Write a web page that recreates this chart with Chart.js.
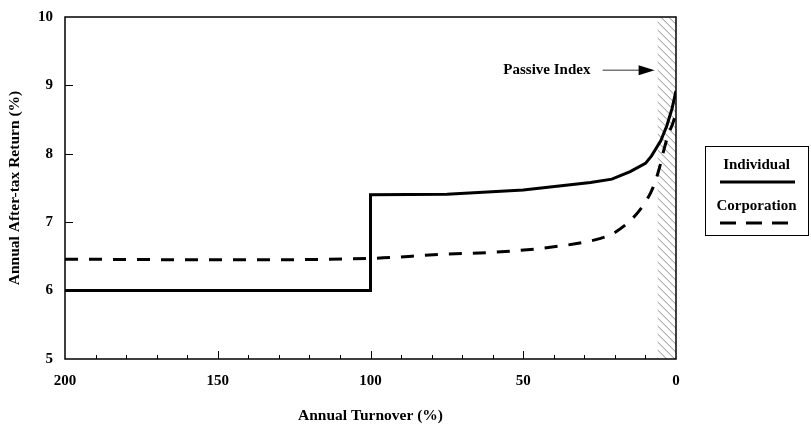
<!DOCTYPE html>
<html><head><meta charset="utf-8">
<script src="https://cdn.jsdelivr.net/npm/chart.js@4.4.1/dist/chart.umd.min.js"></script>
<style>html,body{margin:0;padding:0;background:#fff}#wrap{width:811px;height:427px;position:relative}</style>
</head><body><div id="wrap"><canvas id="c"></canvas></div>
<script>
// ---- data ----
const turnoverIndividual = [200, 100, 100, 75, 50, 28, 21, 15, 10, 8, 6.5, 5, 3, 1.3, 0];
const returnIndividual   = [6.0, 6.0, 7.4, 7.41, 7.47, 7.58, 7.63, 7.74, 7.86, 7.97, 8.08, 8.19, 8.41, 8.66, 8.92];
const turnoverCorporation = [200, 150, 100, 77, 60, 40, 25, 20, 12, 7.5, 5.2, 4.3, 2.6, 1, 0];
const returnCorporation   = [6.46, 6.45, 6.47, 6.53, 6.56, 6.64, 6.76, 6.85, 7.17, 7.51, 7.83, 8.0, 8.27, 8.45, 8.6];
const seriesNames = ['Individual', 'Corporation'];
const xAxisTitle = 'Annual Turnover (%)';
const yAxisTitle = 'Annual After-tax Return (%)';
const passiveLabel = 'Passive Index';
const passiveRange = [0, 6];          // turnover range of the hatched region
const passiveArrow = {labelEnd: 28, tail: 24, tip: 7, y: 9.22};
const xMajorStep = 50, xMinorStep = 10, yStep = 1;

const FONT = '"Liberation Serif", "Times New Roman", serif';
const toXY = (xs, ys) => xs.map((x, i) => ({x, y: ys[i]}));

const decor = {
  id: 'decor',
  beforeDatasetsDraw(chart) {
    const {ctx, chartArea: a, scales: {x}} = chart;
    const x0 = x.getPixelForValue(passiveRange[1]), x1 = x.getPixelForValue(passiveRange[0]);
    ctx.save();
    ctx.beginPath(); ctx.rect(Math.min(x0, x1), a.top, Math.abs(x1 - x0), a.bottom - a.top); ctx.clip();
    ctx.strokeStyle = '#8a8a8a'; ctx.lineWidth = 1;
    for (let yy = a.top - 40; yy < a.bottom + 40; yy += 8) {
      ctx.beginPath();
      ctx.moveTo(Math.min(x0, x1) - 5, yy);
      ctx.lineTo(Math.min(x0, x1) - 5 + 40, yy + 40);
      ctx.stroke();
    }
    ctx.restore();
  },
  afterDatasetsDraw(chart) {
    const {ctx, chartArea: a, scales: {x, y}} = chart;
    ctx.save();
    ctx.strokeStyle = '#000'; ctx.lineWidth = 1.5;
    ctx.strokeRect(a.left, a.top, a.right - a.left, a.bottom - a.top);
    ctx.lineWidth = 1;
    for (let v = xMinorStep; v < x.max; v += xMinorStep) {
      const px = Math.round(x.getPixelForValue(v)) + 0.5;
      const len = (v % xMajorStep === 0) ? 8 : 4;
      ctx.beginPath(); ctx.moveTo(px, a.bottom); ctx.lineTo(px, a.bottom - len); ctx.stroke();
    }
    for (let v = y.min + yStep; v < y.max; v += yStep) {
      const py = Math.round(y.getPixelForValue(v)) + 0.5;
      ctx.beginPath(); ctx.moveTo(a.left, py); ctx.lineTo(a.left + 8, py); ctx.stroke();
    }
    const ay = y.getPixelForValue(passiveArrow.y);
    const tail = x.getPixelForValue(passiveArrow.tail), tip = x.getPixelForValue(passiveArrow.tip);
    ctx.strokeStyle = '#777'; ctx.lineWidth = 1.5;
    ctx.beginPath(); ctx.moveTo(tail, ay); ctx.lineTo(tip - 14, ay); ctx.stroke();
    ctx.fillStyle = '#000';
    ctx.beginPath(); ctx.moveTo(tip, ay); ctx.lineTo(tip - 16, ay - 5); ctx.lineTo(tip - 16, ay + 5); ctx.closePath(); ctx.fill();
    ctx.font = 'bold 15px ' + FONT; ctx.textAlign = 'right'; ctx.textBaseline = 'middle';
    ctx.fillText(passiveLabel, x.getPixelForValue(passiveArrow.labelEnd), ay);
    const bx = a.right + 29, by = 146, bw = 103, bh = 89;
    ctx.lineWidth = 1; ctx.strokeStyle = '#000';
    ctx.strokeRect(bx + 0.5, by + 0.5, bw, bh);
    ctx.textAlign = 'center'; ctx.fillStyle = '#000';
    const cx = bx + bw / 2;
    ctx.fillText(chart.data.datasets[0].label, cx, by + 19);
    ctx.lineWidth = 3;
    ctx.beginPath(); ctx.moveTo(bx + 15, by + 36); ctx.lineTo(bx + 90, by + 36); ctx.stroke();
    ctx.fillText(chart.data.datasets[1].label, cx, by + 60);
    ctx.setLineDash([16, 10]);
    ctx.beginPath(); ctx.moveTo(bx + 15, by + 77); ctx.lineTo(bx + 92, by + 77); ctx.stroke();
    ctx.restore();
  }
};

new Chart(document.getElementById('c'), {
  type: 'line',
  data: {
    datasets: [
      {label: seriesNames[0], data: toXY(turnoverIndividual, returnIndividual),
       borderColor: '#000', borderWidth: 3, pointRadius: 0, tension: 0, fill: false},
      {label: seriesNames[1], data: toXY(turnoverCorporation, returnCorporation),
       borderColor: '#000', borderWidth: 3, borderDash: [13, 11], pointRadius: 0, cubicInterpolationMode: 'monotone', fill: false}
    ]
  },
  options: {
    responsive: true, maintainAspectRatio: false, animation: false,
    layout: {padding: {top: 17, right: 135, left: 0, bottom: 0}},
    plugins: {legend: {display: false}, tooltip: {enabled: false}},
    scales: {
      x: {type: 'linear', reverse: true, min: 0, max: 200,
        grid: {display: false, drawTicks: false}, border: {display: false},
        ticks: {stepSize: xMajorStep, color: '#000', padding: 13, font: {family: FONT, size: 15, weight: 'bold'}, maxRotation: 0},
        title: {display: true, text: xAxisTitle, color: '#000', font: {family: FONT, size: 15.5, weight: 'bold'}, padding: {top: 0, bottom: 2}},
        afterFit(s) { s.height = 68; }
      },
      y: {type: 'linear', min: 5, max: 10,
        grid: {display: false, drawTicks: false}, border: {display: false},
        ticks: {stepSize: yStep, color: '#000', padding: 12, font: {family: FONT, size: 15, weight: 'bold', lineHeight: 1}},
        title: {display: true, text: yAxisTitle, color: '#000', font: {family: FONT, size: 15.5, weight: 'bold'}, padding: {top: 6, bottom: 0}},
        afterFit(s) { s.width = 65; s.paddingTop = 0; }
      }
    }
  },
  plugins: [decor]
});
</script></body></html>
